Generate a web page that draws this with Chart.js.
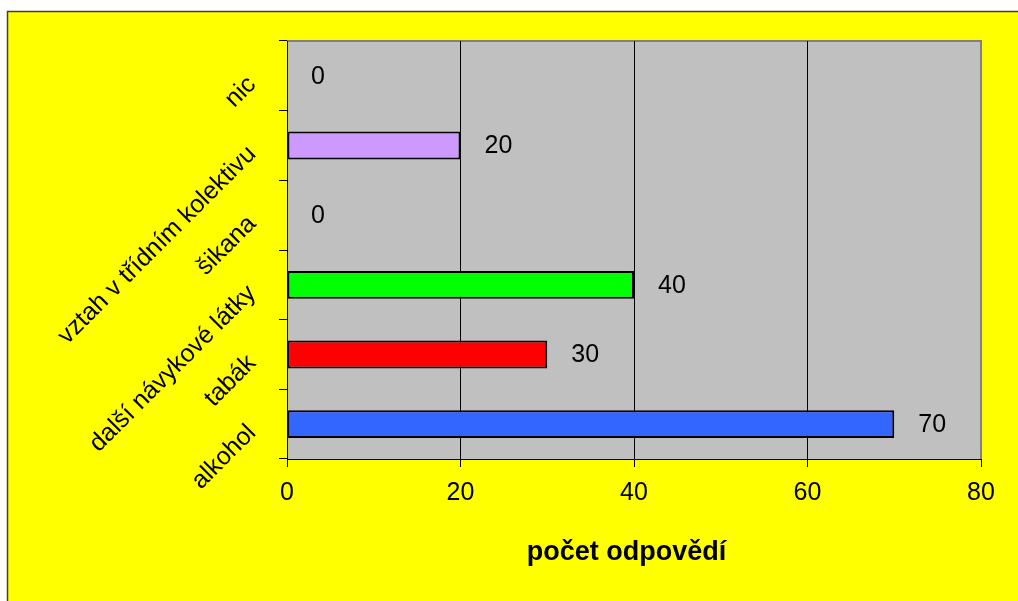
<!DOCTYPE html>
<html>
<head>
<meta charset="utf-8">
<script src="https://cdn.jsdelivr.net/npm/chart.js@4"></script>
<style>
  html, body { margin: 0; padding: 0; background: #fff; }
  canvas { display: block; }
</style>
</head>
<body>
<canvas id="graf" width="1018" height="601"></canvas>
<script>
// data (top to bottom)
const kategorie = ["nic", "vztah v třídním kolektivu", "šikana", "další návykové látky", "tabák", "alkohol"];
const odpovedi = [0, 20, 0, 40, 30, 70];
const barvy = ["#CC99FF", "#CC99FF", "#CC99FF", "#00FF00", "#FF0000", "#3366FF"];
const osaX = [0, 20, 40, 60, 80];

const pismo = "'Liberation Sans', Arial, sans-serif";

// yellow frame + grey plot area
const pozadi = {
    id: "pozadi",
    beforeDraw(c) {
        const ctx = c.ctx;
        const a = c.chartArea;
        ctx.save();
        ctx.fillStyle = "#ffffff";
        ctx.fillRect(0, 0, c.width, c.height);
        ctx.fillStyle = "#FFFF00";
        ctx.fillRect(7, 11, c.width - 7, c.height - 11);
        ctx.strokeStyle = "#404040";
        ctx.lineWidth = 1.5;
        ctx.beginPath();
        ctx.moveTo(7.5, c.height);
        ctx.lineTo(7.5, 11.5);
        ctx.lineTo(c.width, 11.5);
        ctx.stroke();
        ctx.fillStyle = "#C0C0C0";
        ctx.fillRect(a.left, a.top, a.right - a.left, a.bottom - a.top);
        ctx.strokeStyle = "#808080";
        ctx.lineWidth = 2;
        ctx.beginPath();
        ctx.moveTo(a.left, a.top);
        ctx.lineTo(a.right, a.top);
        ctx.lineTo(a.right, a.bottom);
        ctx.stroke();
        ctx.restore();
    }
};

// value labels right of the bars
const hodnoty = {
    id: "hodnoty",
    afterDatasetsDraw(c) {
        const ctx = c.ctx;
        const meta = c.getDatasetMeta(0);
        ctx.save();
        ctx.fillStyle = "#000";
        ctx.font = "25px " + pismo;
        ctx.textAlign = "left";
        ctx.textBaseline = "middle";
        meta.data.forEach((bar, i) => {
            ctx.fillText(String(odpovedi[i]), bar.x + 24, bar.y + 1);
        });
        ctx.restore();
    }
};

new Chart(document.getElementById("graf"), {
    type: "bar",
    data: {
        labels: kategorie,
        datasets: [{
            data: odpovedi,
            backgroundColor: barvy,
            borderColor: "#000",
            borderWidth: 2,
            borderSkipped: false,
            barPercentage: 0.4,
            categoryPercentage: 1
        }]
    },
    options: {
        indexAxis: "y",
        responsive: false,
        devicePixelRatio: 1,
        animation: false,
        layout: { padding: { left: 0, top: 41, right: 37, bottom: 32 } },
        plugins: {
            legend: { display: false },
            tooltip: { enabled: false }
        },
        scales: {
            x: {
                min: 0,
                max: 80,
                afterBuildTicks: s => { s.ticks = osaX.map(v => ({ value: v })); },
                afterFit: s => { s.height = 110; },
                grid: {
                    color: ctx => ctx.tick && ctx.tick.value === 80 ? "#808080" : "#000",
                    tickColor: "#000",
                    tickLength: 8,
                    lineWidth: 1
                },
                border: { color: "#000", width: 1 },
                ticks: {
                    color: "#000",
                    padding: 11,
                    font: { family: pismo, size: 25 }
                },
                title: {
                    display: true,
                    text: "počet odpovědí  ",
                    color: "#000",
                    padding: { top: 0, bottom: 0 },
                    font: { family: pismo, size: 27, weight: "bold" }
                }
            },
            y: {
                afterFit: s => { s.width = 287; },
                grid: {
                    drawOnChartArea: false,
                    drawTicks: true,
                    tickLength: 8,
                    tickColor: "#000"
                },
                border: { color: "#000", width: 1 },
                ticks: {
                    color: "#000",
                    padding: 22,
                    minRotation: 45,
                    maxRotation: 45,
                    autoSkip: false,
                    // trailing space pushes the rotated text down along its line
                    callback: (v, i) => kategorie[i] + " ",
                    font: { family: pismo, size: 25 }
                }
            }
        }
    },
    plugins: [pozadi, hodnoty]
});
</script>
</body>
</html>
